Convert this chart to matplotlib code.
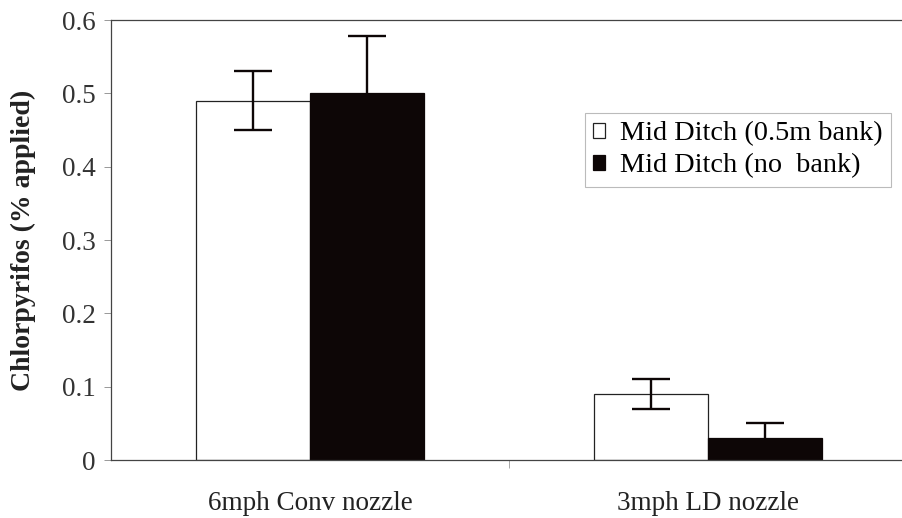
import matplotlib
matplotlib.use("Agg")
import matplotlib.pyplot as plt
import numpy as np

# chart data
categories = ["6mph Conv nozzle", "3mph LD nozzle"]
series_names = ["Mid Ditch (0.5m bank)", "Mid Ditch (no  bank)"]
bank_vals = [0.49, 0.09]
bank_err = [0.04, 0.02]
nobank_vals = [0.50, 0.03]
nobank_err = [0.078, 0.02]

plt.rcParams["font.family"] = ["Liberation Serif", "DejaVu Serif"]

fig = plt.figure(figsize=(9.03, 5.18), dpi=100)
ax = fig.add_axes([111 / 903, 1 - 460 / 518, 792 / 903, 440 / 518])

x = np.arange(len(categories))
w = 0.286

err_kw = dict(ecolor="#0d0606", elinewidth=1.7, capsize=13.5, capthick=1.7)
ax.bar(x - w / 2, bank_vals, w, yerr=bank_err, color="white",
       edgecolor="#222222", linewidth=0.9, label=series_names[0],
       error_kw=err_kw, zorder=2)
ax.bar(x + w / 2, nobank_vals, w, yerr=nobank_err, color="#0d0606",
       edgecolor="#0d0606", linewidth=0.9, label=series_names[1],
       error_kw=err_kw, zorder=2)

ax.set_ylim(0, 0.6)
ax.set_yticks([0, 0.1, 0.2, 0.3, 0.4, 0.5, 0.6])
ax.set_yticklabels(["0", "0.1", "0.2", "0.3", "0.4", "0.5", "0.6"])
ax.set_xlim(-0.5, 1.49)
ax.set_xticks([0.5])
ax.set_xticklabels([""])
ax.tick_params(axis="y", labelsize=19.5, length=5, width=0.6, color="#888888",
               pad=6, labelcolor="#333333")
ax.tick_params(axis="x", length=6, width=0.6, color="#999999")

# category names sit well below the axis, as in the original
for i, c in enumerate(categories):
    ax.text(i, -0.059, c, ha="center", va="center", fontsize=19.5,
            color="#222222", clip_on=False)

for s in ["top", "left", "bottom", "right"]:
    ax.spines[s].set_linewidth(0.9)
    ax.spines[s].set_color("#444444")

ax.set_ylabel("Chlorpyrifos (% applied)", fontsize=20, fontweight="bold",
              color="#222222", va="center")
ax.yaxis.set_label_coords(-(111 - 23) / 792, (460 - 240) / 440)

leg = ax.legend(loc="upper left", bbox_to_anchor=((585 - 111) / 792, 1 - (113 - 20) / 440),
                fontsize=20.3, frameon=True, fancybox=False, handlelength=0.4,
                handleheight=0.4, handletextpad=0.55, borderpad=0.3,
                labelspacing=0.25, edgecolor="#aaaaaa", borderaxespad=0)
leg.get_frame().set_linewidth(0.8)

fig.savefig("out.png", dpi=100)
